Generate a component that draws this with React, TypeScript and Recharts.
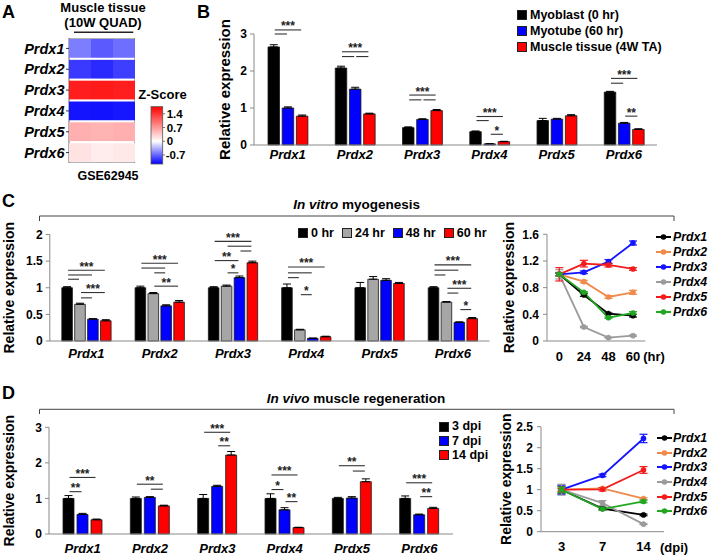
import React from 'react'
import {
  BarChart,
  Bar,
  LineChart,
  Line,
  XAxis,
  YAxis,
  ErrorBar,
  LabelList,
  Legend,
  Cell,
  ReferenceArea,
} from 'recharts'

const FONT = '"Liberation Sans", Arial, Helvetica, sans-serif'
const AXIS = '#8a8a8a'
const INK = '#000'

const GENES = ['Prdx1', 'Prdx2', 'Prdx3', 'Prdx4', 'Prdx5', 'Prdx6']

// A: GSE62945, 10W quadriceps, z-score per sample
const Z_SAMPLE1 = [-0.59, -0.9, 1.56, -1.07, 0.55, 0.19]
const Z_SAMPLE2 = [-0.75, -0.97, 1.58, -1.08, 0.52, 0.13]
const Z_SAMPLE3 = [-0.66, -0.88, 1.55, -1.06, 0.55, 0.16]
const Z_TICKS = [1.4, 0.7, 0, -0.7]
const Z_MIN = -1.16
const Z_MAX = 1.76

// B: myoblast vs myotube vs muscle tissue
const B_NAMES = ['Myoblast (0 hr)', 'Myotube (60 hr)', 'Muscle tissue (4W TA)']
const B_MYOBLAST = [2.65, 2.08, 0.47, 0.36, 0.66, 1.43]
const B_MYOBLAST_ERR = [0.06, 0.05, 0.02, 0.02, 0.06, 0.02]
const B_MYOTUBE = [1.0, 1.51, 0.69, 0.03, 0.7, 0.59]
const B_MYOTUBE_ERR = [0.03, 0.05, 0.02, 0.005, 0.02, 0.02]
const B_TISSUE = [0.78, 0.84, 0.93, 0.09, 0.79, 0.42]
const B_TISSUE_ERR = [0.03, 0.02, 0.03, 0.01, 0.03, 0.02]
const B_TICKS = [0, 1, 2, 3]

// C: in vitro myogenesis time course
const C_TIMES = ['0', '24', '48', '60']
const C_NAMES = ['0 hr', '24 hr', '48 hr', '60 hr']
const C_0HR = [1, 1, 1, 1, 1, 1]
const C_0HR_ERR = [0.02, 0.03, 0.02, 0.07, 0.1, 0.02]
const C_24HR = [0.69, 0.89, 1.03, 0.21, 1.16, 0.73]
const C_24HR_ERR = [0.02, 0.02, 0.02, 0.01, 0.05, 0.01]
const C_48HR = [0.41, 0.66, 1.19, 0.05, 1.14, 0.35]
const C_48HR_ERR = [0.01, 0.02, 0.03, 0.005, 0.03, 0.01]
const C_60HR = [0.38, 0.73, 1.47, 0.08, 1.08, 0.42]
const C_60HR_ERR = [0.02, 0.03, 0.03, 0.01, 0.02, 0.02]
const C_BAR_TICKS = [0, 0.5, 1, 1.5, 2]
const C_LINE_TICKS = [0, 0.4, 0.8, 1.2, 1.6]

// D: in vivo regeneration (days post injury)
const D_TIMES = ['3', '7', '14']
const D_NAMES = ['3 dpi', '7 dpi', '14 dpi']
const D_3DPI = [1, 1, 1, 1, 1, 1]
const D_3DPI_ERR = [0.08, 0.04, 0.11, 0.13, 0.03, 0.07]
const D_7DPI = [0.55, 1.03, 1.34, 0.68, 1.01, 0.54]
const D_7DPI_ERR = [0.03, 0.02, 0.03, 0.06, 0.04, 0.02]
const D_14DPI = [0.4, 0.79, 2.22, 0.18, 1.47, 0.72]
const D_14DPI_ERR = [0.02, 0.02, 0.1, 0.01, 0.08, 0.03]
const D_BAR_TICKS = [0, 1, 2, 3]
const D_LINE_TICKS = [0, 0.5, 1, 1.5, 2, 2.5]

const LINE_COLORS = ['#000000', '#f08a4b', '#1414ff', '#9b9b9b', '#f21c1c', '#22a722']

// significance lines: [gene index, from series, to series, height, stars]
type Bracket = [number, number, number, number, string]

const B_SIG: Bracket[] = [
  [0, 0, 2, 3.11, '***'], [0, 0, 1, 3.0, ''],
  [1, 0, 2, 2.52, '***'], [1, 0, 1, 2.39, ''], [1, 1, 2, 2.39, ''],
  [2, 0, 2, 1.35, '***'], [2, 0, 1, 1.22, ''], [2, 1, 2, 1.22, ''],
  [3, 0, 2, 0.77, '***'], [3, 0, 1, 0.66, ''], [3, 1, 2, 0.29, '*'],
  [5, 0, 2, 1.8, '***'], [5, 0, 1, 1.67, ''], [5, 1, 2, 0.78, '**'],
]

const C_SIG: Bracket[] = [
  [0, 0, 3, 1.33, '***'], [0, 0, 2, 1.24, ''], [0, 0, 1, 1.16, ''], [0, 1, 3, 0.91, '***'], [0, 1, 2, 0.81, ''],
  [1, 0, 3, 1.46, '***'], [1, 0, 2, 1.37, ''], [1, 1, 2, 1.28, ''], [1, 1, 3, 1.03, '**'],
  [2, 0, 3, 1.87, '***'], [2, 1, 3, 1.78, ''], [2, 2, 3, 1.69, ''], [2, 0, 2, 1.51, '**'], [2, 1, 2, 1.28, '*'],
  [3, 0, 3, 1.39, '***'], [3, 0, 2, 1.28, ''], [3, 0, 1, 1.19, ''], [3, 1, 2, 0.87, '*'],
  [5, 0, 3, 1.43, '***'], [5, 0, 2, 1.33, ''], [5, 0, 1, 1.24, ''], [5, 1, 3, 0.99, '***'], [5, 1, 2, 0.9, ''], [5, 2, 3, 0.59, '*'],
]

const D_SIG: Bracket[] = [
  [0, 0, 2, 1.59, '***'], [0, 0, 1, 1.19, '**'],
  [1, 0, 2, 1.4, '**'], [1, 1, 2, 1.26, ''],
  [2, 0, 2, 2.86, '***'], [2, 1, 2, 2.48, '**'],
  [3, 0, 2, 1.66, '***'], [3, 0, 1, 1.25, '*'], [3, 1, 2, 0.91, '**'],
  [4, 0, 2, 1.92, '**'], [4, 1, 2, 1.77, ''],
  [5, 0, 2, 1.44, '***'], [5, 1, 2, 1.05, '**'],
]

const zColor = (z: number) => {
  if (z >= 0) {
    const c = Math.round(255 * (1 - Math.min(1, z / Z_MAX)))
    return `rgb(255,${c},${c})`
  }
  const c = Math.round(255 * (1 - Math.min(1, z / Z_MIN)))
  return `rgb(${c},${c},255)`
}

const tickFont = { fill: INK, fontSize: 12, fontWeight: 700, fontFamily: FONT }
const geneFont = { fill: INK, fontSize: 13, fontWeight: 700, fontStyle: 'italic', fontFamily: FONT }

// rotated y axis title, placed inside the axis box
const yTitle = (text: string, dx: number, size: number) => (props: any) => {
  const vb = props.viewBox || {}
  const x = vb.x + dx
  const y = vb.y + vb.height / 2
  return (
    <text x={x} y={y} transform={`rotate(-90 ${x} ${y})`} textAnchor="middle" dominantBaseline="central"
      fontSize={size} fontWeight={700} fill={INK} fontFamily={FONT}>
      {text}
    </text>
  )
}

const xUnit = (text: string, dx: number, dy: number) => (props: any) => {
  const vb = props.viewBox || {}
  return (
    <text x={vb.x + vb.width + dx} y={vb.y + dy} fontSize={13} fontWeight={700} fill={INK} fontFamily={FONT}>
      {text}
    </text>
  )
}

// significance lines hang off the first bar of each group, using that bar's own geometry
const bracketLayer = (list: Bracket[], gap: number, n: number) => (props: any) => {
  const vb = props.viewBox && props.viewBox.width != null ? props.viewBox : props
  if (!vb || !vb.width) return null
  let idx = props.index
  const pvb = props.parentViewBox
  if (idx === undefined && pvb) idx = Math.floor(((vb.x - pvb.x) / pvb.width) * n)
  const value = Number(props.value)
  if (!(value > 0)) return null
  const k = vb.height / value
  const base = vb.y + vb.height
  const step = vb.width + gap
  const c0 = vb.x + vb.width / 2
  return (
    <g>
      {list.filter((b) => b[0] === idx).map((b, i) => {
        const x1 = c0 + b[1] * step + 1
        const x2 = c0 + b[2] * step - 1
        const y = base - b[3] * k
        return (
          <g key={i}>
            <line x1={x1} x2={x2} y1={y} y2={y} stroke="#333" strokeWidth={1.1} />
            {b[4] && (
              <text x={(x1 + x2) / 2} y={y + 0.5} textAnchor="middle" fontSize={12} fontWeight={700} fill="#222" fontFamily={FONT}>
                {b[4]}
              </text>
            )}
          </g>
        )
      })}
    </g>
  )
}

const byKey = (payload: any[]) =>
  [...(payload || [])].sort((a, b) => String(a.dataKey).localeCompare(String(b.dataKey)))

function SquareLegend({ payload = [], rowH, inline, size }: any) {
  return (
    <div style={{ display: inline ? 'flex' : 'block', fontFamily: FONT, fontWeight: 700, fontSize: 12.5, color: INK, whiteSpace: 'nowrap', lineHeight: 1 }}>
      {byKey(payload).map((p: any, i: number) => (
        <div key={i} style={{ display: 'flex', alignItems: 'center', height: rowH, marginRight: inline ? 8 : 0 }}>
          <span style={{ display: 'inline-block', width: size, height: size, background: p.color, border: '1px solid #222', boxSizing: 'border-box', marginRight: 3 }} />
          <span>{p.value}</span>
        </div>
      ))}
    </div>
  )
}

function LineLegend({ payload = [], rowH }: any) {
  const items = [...(payload || [])].sort((a: any, b: any) => GENES.indexOf(a.value) - GENES.indexOf(b.value))
  return (
    <div style={{ fontFamily: FONT, fontWeight: 700, fontStyle: 'italic', fontSize: 12.3, color: INK, whiteSpace: 'nowrap', lineHeight: 1 }}>
      {items.map((p: any, i: number) => (
        <div key={i} style={{ display: 'flex', alignItems: 'center', height: rowH }}>
          <svg width={15} height={8} style={{ display: 'block' }}>
            <line x1={0} x2={15} y1={4} y2={4} stroke={p.color} strokeWidth={2} />
            <circle cx={7.5} cy={4} r={2.8} fill={p.color} />
          </svg>
          <span style={{ marginLeft: 1.5 }}>{p.value}</span>
        </div>
      ))}
    </div>
  )
}

function GroupBars(props: any) {
  const { left, top, width, height, marginTop, yWidth, xHeight, xMargin, domain, ticks, series, sig, barSize, barGap, titleX, titleSize, legend } = props
  const data = GENES.map((g, i) => {
    const row: any = { gene: g }
    series.forEach((s: any, k: number) => {
      row['v' + k] = s.values[i]
      row['e' + k] = [0, s.errs[i]]
    })
    return row
  })
  return (
    <div style={{ position: 'absolute', left, top }}>
      <BarChart width={width} height={height} data={data} margin={{ top: marginTop, right: 0, bottom: 0, left: 0 }}
        barSize={barSize} barGap={barGap}>
        <XAxis dataKey="gene" height={xHeight} interval={0} tickLine={false} tickSize={0} tickMargin={xMargin}
          stroke={AXIS} tick={geneFont} />
        <YAxis width={yWidth} domain={domain} ticks={ticks} interval={0} stroke={AXIS} tickSize={4} tickMargin={3}
          tick={tickFont} label={yTitle('Relative expression', titleX, titleSize)} />
        {series.map((s: any, k: number) => (
          <Bar key={k} dataKey={'v' + k} name={s.name} fill={s.color} stroke="#1a1a1a" strokeWidth={0.8} isAnimationActive={false}>
            <ErrorBar dataKey={'e' + k} width={4} stroke="#000" strokeWidth={1} />
            {k === 0 && <LabelList dataKey={'v' + k} content={bracketLayer(sig, barGap, GENES.length)} />}
          </Bar>
        ))}
        <Legend layout={legend.inline ? 'horizontal' : 'vertical'} align="center" verticalAlign="middle"
          wrapperStyle={{ left: legend.left, top: legend.top, width: legend.width }}
          content={(p: any) => <SquareLegend payload={p.payload} rowH={legend.rowH} inline={legend.inline} size={legend.size} />} />
      </BarChart>
    </div>
  )
}

function TimeLines(props: any) {
  const { left, top, width, height, marginTop, marginRight, yWidth, xHeight, xMargin, times, series, errs, domain, ticks, pad, unit, unitDx, titleX, legend } = props
  const data = times.map((t: string, ti: number) => {
    const row: any = { t }
    GENES.forEach((g, gi) => {
      row[g] = series[ti][gi]
      row[g + '_e'] = errs[ti][gi]
    })
    return row
  })
  const bounds = times.map((_: string, i: number) => i + 1)
  return (
    <div style={{ position: 'absolute', left, top }}>
      <LineChart width={width} height={height} data={data} margin={{ top: marginTop, right: marginRight, bottom: 0, left: 0 }}>
        <XAxis xAxisId="bounds" type="number" domain={[0, times.length]} ticks={bounds} tick={false} tickSize={5}
          height={0} axisLine={false} stroke={AXIS} />
        <XAxis xAxisId="main" dataKey="t" height={xHeight} padding={{ left: pad, right: pad }} interval={0}
          tickLine={false} tickSize={0} tickMargin={xMargin} stroke={AXIS} tick={{ ...tickFont, fontSize: 13 }}
          label={xUnit(unit, unitDx, 20)} />
        <YAxis width={yWidth} domain={domain} ticks={ticks} interval={0} stroke={AXIS} tickSize={4} tickMargin={4}
          tick={tickFont} label={yTitle('Relative expression', titleX, 14)} />
        {GENES.map((g, gi) => (
          <Line key={g} xAxisId="main" dataKey={g} name={g} stroke={LINE_COLORS[gi]} strokeWidth={1.8}
            dot={{ r: 2.6, fill: LINE_COLORS[gi], stroke: LINE_COLORS[gi], strokeWidth: 0.5 }} isAnimationActive={false}>
            <ErrorBar dataKey={g + '_e'} width={4} stroke={LINE_COLORS[gi]} strokeWidth={1.2} />
          </Line>
        ))}
        <Legend layout="vertical" align="center" verticalAlign="middle"
          wrapperStyle={{ left: legend.left, top: legend.top, width: 56 }}
          content={(p: any) => <LineLegend payload={p.payload} rowH={legend.rowH} />} />
      </LineChart>
    </div>
  )
}

function Heatmap() {
  const samples = [Z_SAMPLE1, Z_SAMPLE2, Z_SAMPLE3]
  const data = GENES.map((g) => ({ gene: g, s0: 1, s1: 1, s2: 1 }))
  return (
    <div style={{ position: 'absolute', left: 0, top: 38 }}>
      <BarChart layout="vertical" width={135} height={125} data={data} margin={{ top: 0, right: 0, bottom: 0, left: 0 }}
        barCategoryGap={0} barSize={21}>
        <XAxis type="number" domain={[0, 3]} hide />
        <YAxis type="category" dataKey="gene" width={69} axisLine={false} tickSize={3} tickMargin={1.5}
          tickLine={{ stroke: '#333' }} interval={0} tick={{ ...geneFont, fontSize: 14.5 }} />
        {samples.map((z, k) => (
          <Bar key={k} dataKey={'s' + k} stackId="heat" isAnimationActive={false}>
            {z.map((v, i) => (
              <Cell key={i} fill={zColor(v)} />
            ))}
          </Bar>
        ))}
        <ReferenceArea x1={0} x2={3} y1="Prdx1" y2="Prdx6" fill="none" stroke="#666" strokeWidth={1} ifOverflow="visible" />
      </BarChart>
    </div>
  )
}

function Annotations() {
  const barTop = 106.7
  const barH = 57.3
  const zY = (z: number) => barTop + ((Z_MAX - z) / (Z_MAX - Z_MIN)) * barH
  const whiteAt = Z_MAX / (Z_MAX - Z_MIN)
  const letter = { fontSize: 18, fontWeight: 700, fill: INK }
  const title = { fontSize: 13.5, fontWeight: 700, fill: INK, textAnchor: 'middle' as const }
  return (
    <svg width={709} height={557} style={{ position: 'absolute', left: 0, top: 0 }} fontFamily={FONT}>
      <defs>
        <linearGradient id="zbar" x1="0" y1="0" x2="0" y2="1">
          <stop offset="0" stopColor="#ff0000" />
          <stop offset={whiteAt} stopColor="#ffffff" />
          <stop offset="1" stopColor="#0000ff" />
        </linearGradient>
      </defs>
      <text x={2} y={18} {...letter}>A</text>
      <text x={197} y={18} {...letter}>B</text>
      <text x={2} y={206.5} {...letter}>C</text>
      <text x={2} y={398.5} {...letter}>D</text>

      <text x={103} y={12} {...title} fontSize={13}>Muscle tissue</text>
      <text x={103} y={26.5} {...title} fontSize={13}>(10W QUAD)</text>
      <line x1={74} x2={133.3} y1={32.3} y2={32.3} stroke="#222" strokeWidth={1.6} />
      <text x={108} y={179.5} {...title} fontSize={12.5}>GSE62945</text>
      <text x={138.3} y={99} fontSize={13} fontWeight={700} fill={INK}>Z-Score</text>
      <rect x={151} y={barTop} width={11.7} height={barH} fill="url(#zbar)" stroke="#555" strokeWidth={0.8} />
      {Z_TICKS.map((z) => (
        <g key={z}>
          <line x1={162.7} x2={165} y1={zY(z)} y2={zY(z)} stroke="#555" strokeWidth={0.8} />
          <text x={z < 0 ? 165.7 : 166.7} y={zY(z) + 4} fontSize={11.5} fontWeight={700} fill={INK}>{z}</text>
        </g>
      ))}

      <text x={356.7} y={208.5} {...title}>
        <tspan fontStyle="italic">In vitro</tspan> myogenesis
      </text>
      <path d="M39.5 221 V216 H674 V221" fill="none" stroke="#444" strokeWidth={1} />
      <text x={356} y={402.5} {...title}>
        <tspan fontStyle="italic">In vivo</tspan> muscle regeneration
      </text>
      <path d="M39.5 414 V409.3 H674 V414" fill="none" stroke="#444" strokeWidth={1} />
    </svg>
  )
}

export default function App() {
  const bSeries = [
    { name: B_NAMES[0], values: B_MYOBLAST, errs: B_MYOBLAST_ERR, color: '#000000' },
    { name: B_NAMES[1], values: B_MYOTUBE, errs: B_MYOTUBE_ERR, color: '#0000ff' },
    { name: B_NAMES[2], values: B_TISSUE, errs: B_TISSUE_ERR, color: '#ff0000' },
  ]
  const cSeries = [
    { name: C_NAMES[0], values: C_0HR, errs: C_0HR_ERR, color: '#000000' },
    { name: C_NAMES[1], values: C_24HR, errs: C_24HR_ERR, color: '#a6a6a6' },
    { name: C_NAMES[2], values: C_48HR, errs: C_48HR_ERR, color: '#0000ff' },
    { name: C_NAMES[3], values: C_60HR, errs: C_60HR_ERR, color: '#ff0000' },
  ]
  const dSeries = [
    { name: D_NAMES[0], values: D_3DPI, errs: D_3DPI_ERR, color: '#000000' },
    { name: D_NAMES[1], values: D_7DPI, errs: D_7DPI_ERR, color: '#0000ff' },
    { name: D_NAMES[2], values: D_14DPI, errs: D_14DPI_ERR, color: '#ff0000' },
  ]
  return (
    <div style={{ position: 'absolute', left: 0, top: 0, width: 709, height: 557, background: '#fff', fontFamily: FONT, overflow: 'hidden' }}>
      <Annotations />
      <Heatmap />
      <GroupBars left={208.5} top={14} width={448.5} height={156} marginTop={20} yWidth={45} xHeight={25} xMargin={5}
        domain={[0, 3]} ticks={B_TICKS} series={bSeries} sig={B_SIG} barSize={11.5} barGap={2.7}
        titleX={15.5} titleSize={15}
        legend={{ left: 308.5, top: -7, width: 170, rowH: 16, size: 10, inline: false }} />
      <GroupBars left={0} top={214} width={489.5} height={152} marginTop={20.5} yWidth={49.8} xHeight={25} xMargin={7.3}
        domain={[0, 2]} ticks={C_BAR_TICKS} series={cSeries} sig={C_SIG} barSize={10.6} barGap={2.3}
        titleX={9} titleSize={14}
        legend={{ left: 298, top: 12, width: 200, rowH: 14, size: 10, inline: true }} />
      <TimeLines left={501.7} top={214} width={207.3} height={152} marginTop={20.3} marginRight={64} yWidth={45}
        xHeight={25} xMargin={10.7} times={C_TIMES} series={[C_0HR, C_24HR, C_48HR, C_60HR]}
        errs={[C_0HR_ERR, C_24HR_ERR, C_48HR_ERR, C_60HR_ERR]} domain={[0, 1.6]} ticks={C_LINE_TICKS} pad={12.3}
        unit="(hr)" unitDx={-2} titleX={7.3} legend={{ left: 154.8, top: 15.2, rowH: 15 }} />
      <GroupBars left={0} top={412} width={453} height={145} marginTop={15.3} yWidth={49} xHeight={23} xMargin={9.3}
        domain={[0, 3]} ticks={D_BAR_TICKS} series={dSeries} sig={D_SIG} barSize={11} barGap={3}
        titleX={9} titleSize={14}
        legend={{ left: 439, top: 7.6, width: 80, rowH: 14.2, size: 10, inline: false }} />
      <TimeLines left={496} top={412} width={213} height={145} marginTop={14.7} marginRight={45} yWidth={45}
        xHeight={25.3} xMargin={10} times={D_TIMES} series={[D_3DPI, D_7DPI, D_14DPI]}
        errs={[D_3DPI_ERR, D_7DPI_ERR, D_14DPI_ERR]} domain={[0, 2.5]} ticks={D_LINE_TICKS} pad={20.5}
        unit="(dpi)" unitDx={-4} titleX={10} legend={{ left: 160.5, top: 19, rowH: 14.6 }} />
    </div>
  )
}
